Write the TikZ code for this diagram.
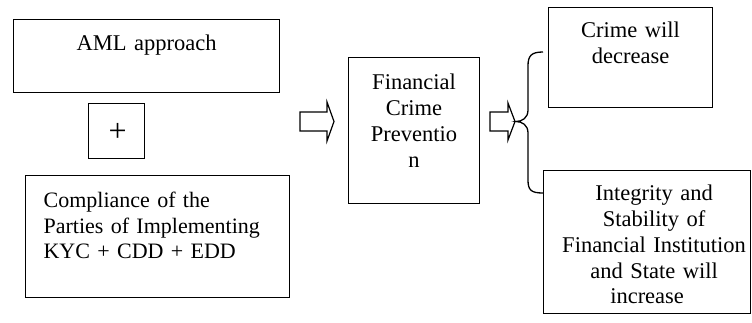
\documentclass[tikz,border=0pt]{standalone}
\usepackage{fontspec}
\setmainfont{Liberation Serif}
\usepackage{tikz}
\usetikzlibrary{positioning}

\begin{document}
\begin{tikzpicture}[x=1pt, y=-1pt,
			box/.style = {draw, line width=1.2pt, anchor=north west, inner xsep=6pt, inner ysep=0pt,
				align=center, font=\fontsize{22.5}{25.8}\selectfont},
			blockarrow/.style = {draw, line width=1.2pt, line join=miter, fill=white},
			brace/.style = {draw, line width=1.3pt},
			]
		
		\useasboundingbox (0,0) rectangle (752,322);
		
		% left column
		\node[box, text width=254pt, text height=31pt, text depth=42pt] (aml) at (13,19) {AML approach};
		\node[box, font=\fontsize{32}{36}\selectfont, text width=44pt, text height=38pt, text depth=17pt]
			(plus) at (88,103) {\hspace*{2pt}+};
		\node[box, font=\fontsize{22}{25.6}\selectfont, align=left, inner xsep=18pt, text width=228pt,
			text height=32pt, text depth=90pt]
			(kyc) at (25,175) {Compliance of the\\ Parties of Implementing\\ KYC + CDD + EDD};
		
		% middle
		\node[box, text width=119pt, text height=32pt, text depth=114pt] (prevent) at (348,57)
			{Financial\\ Crime\\ Preventio\\ n};
		
		% results
		\node[box, text width=152pt, text height=30pt, text depth=70pt] (crime) at (548,7)
			{Crime will\\ decrease};
		\node[box, inner xsep=0pt, text width=207pt, text height=30pt, text depth=113pt] (stable) at (543,170)
			{\advance\leftskip 14pt Integrity and\\ Stability of\\ Financial Institution\\ and State will\\ increase};
		
		% block arrows
		\draw[blockarrow] (300,112) -- (327,112) -- (327,102) -- (334,121.5) -- (327,141)
			-- (327,131) -- (300,131) -- cycle;
		\draw[blockarrow] (490,112) -- (508,112) -- (508,103) -- (515,121.5) -- (508,140)
			-- (508,131) -- (490,131) -- cycle;
		
		% brace
		\draw[brace] (543,52) .. controls (531,52) and (528,56) .. (528,66) -- (528,110)
			.. controls (528,118) and (522,121.5) .. (516,121.5)
			.. controls (522,121.5) and (528,125) .. (528,133) -- (528,180)
			.. controls (528,190) and (531,193) .. (543,193);
		
\end{tikzpicture}
\end{document}
